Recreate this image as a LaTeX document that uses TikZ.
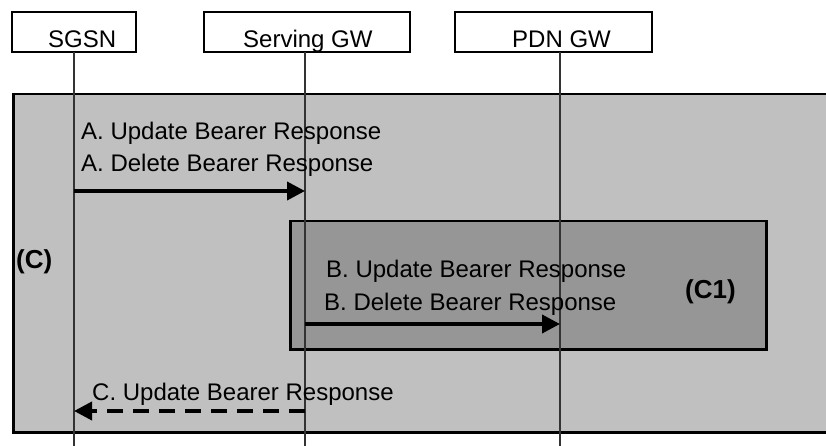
\documentclass[tikz,border=0pt]{standalone}
\usepackage{fontspec}
\setmainfont{Liberation Sans}
\usetikzlibrary{arrows.meta}
\tikzset{
  entity/.style={draw=black, line width=2.5pt, fill=white, inner sep=0pt},
  lifeline/.style={draw=black!80, line width=1.2pt},
  msg/.style={line width=3.8pt, -{Triangle[length=18pt,width=18pt]}},
  lbl/.style={anchor=base west, inner sep=0pt, font=\fontsize{24}{28}\selectfont},
  blbl/.style={anchor=base west, inner sep=0pt, font=\fontsize{26}{30}\selectfont\bfseries},
  zone/.style={draw=black, line width=2.5pt},
}
\begin{document}
\begin{tikzpicture}[x=1pt,y=-1pt]
\useasboundingbox (0,0) rectangle (826,446);
\clip (0,0) rectangle (826,446);
% entity boxes
\node[entity, minimum width=124pt, minimum height=40pt] (sgsn) at (74,32) {};
\node[entity, minimum width=206pt, minimum height=40pt] (sgw) at (307,32) {};
\node[entity, minimum width=197pt, minimum height=40pt] (pgw) at (553.5,32) {};
\node[lbl] (sgsnT) at (48,48) {SGSN};
\node[lbl] (sgwT) at (243,48) {Serving GW};
\node[lbl] (pgwT) at (512,48) {PDN GW};
% zones
\node[zone, fill={rgb,255:red,192;green,192;blue,192}, minimum width=830pt, minimum height=338pt, inner sep=0pt, anchor=north west] (zoneC) at (12,93) {};
\node[zone, fill={rgb,255:red,150;green,150;blue,150}, minimum width=476pt, minimum height=128pt, inner sep=0pt, anchor=north west] (zoneC1) at (289,220) {};
% lifelines
\coordinate (sgsnEnd) at (74,446);
\coordinate (sgwEnd) at (305,446);
\coordinate (pgwEnd) at (560,446);
\draw[lifeline] (74,52) -- (sgsnEnd);
\draw[lifeline] (305,52) -- (sgwEnd);
\draw[lifeline] (560,52) -- (pgwEnd);
% message points
\coordinate (a1) at (74,191);
\coordinate (a2) at (305,191);
\coordinate (b1) at (305,324);
\coordinate (b2) at (560,324);
\coordinate (c1) at (305,411);
\coordinate (c2) at (74,411);
\draw[msg] (a1) -- (a2);
\draw[msg] (b1) -- (b2);
\draw[msg, dash pattern=on 16pt off 10pt] (c1) -- (c2);
% labels
\node[lbl] (ta1) at (81,140) {A. Update Bearer Response};
\node[lbl] (ta2) at (81,172) {A. Delete Bearer Response};
\node[lbl] (tb1) at (326,277) {B. Update Bearer Response};
\node[lbl] (tb2) at (324,310) {B. Delete Bearer Response};
\node[lbl] (tc) at (92,400) {C. Update Bearer Response};
\node[blbl] (tC) at (16,268) {(C)};
\node[blbl] (tC1) at (685,298) {(C1)};
\end{tikzpicture}
\end{document}
